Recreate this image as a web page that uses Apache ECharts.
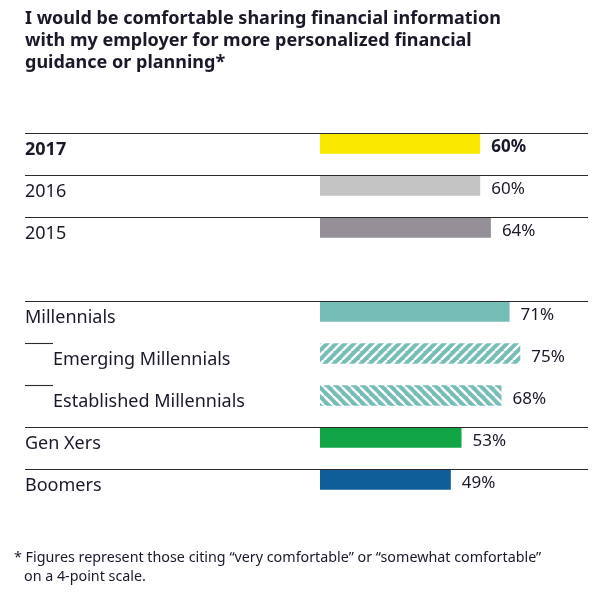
<!DOCTYPE html>
<html>
<head>
<meta charset="utf-8">
<script src="https://cdn.jsdelivr.net/npm/echarts@6/dist/echarts.min.js"></script>
<style>html,body{margin:0;padding:0;background:#fff;}#c{width:610px;height:604px;}</style>
</head>
<body>
<div id="c"></div>
<script>
const categories = ['2017', '2016', '2015', '', 'Millennials', 'Emerging Millennials', 'Established Millennials', 'Gen Xers', 'Boomers'];
const values = [60, 60, 64, null, 71, 75, 68, 53, 49];
const separators = ['full', 'full', 'full', 'none', 'full', 'short', 'short', 'full', 'full'];
const labelStyles = ['bold', 'plain', 'plain', 'plain', 'plain', 'indent', 'indent', 'plain', 'plain'];

const TEXT = '#1c1829';
const FONT = 'Noto Sans';
const teal = '#76bdb8';

function hatch(dir) {
  const s = 9;
  const c = document.createElement('canvas');
  c.width = s; c.height = s;
  const g = c.getContext('2d');
  g.fillStyle = teal; g.fillRect(0, 0, s, s);
  g.strokeStyle = '#ffffff'; g.lineWidth = 2.4;
  for (let k = -1; k <= 1; k++) {
    g.beginPath();
    if (dir === 'up') { g.moveTo(k * s, s); g.lineTo(k * s + s, 0); }
    else { g.moveTo(k * s, 0); g.lineTo(k * s + s, s); }
    g.stroke();
  }
  return { image: c, repeat: 'repeat' };
}

const colors = ['#f9e900', '#c3c3c3', '#958f97', '#ffffff', teal, hatch('up'), hatch('down'), '#11a545', '#0f5e9a'];
const BAR_H = 20.5;
const LABEL_MARGIN = 295;

const chart = echarts.init(document.getElementById('c'), null, { renderer: 'canvas' });
chart.setOption({
  backgroundColor: '#fff',
  animation: false,
  textStyle: { fontFamily: FONT },
  title: [
    {
      text: 'I would be comfortable sharing financial information\nwith my employer for more personalized financial\nguidance or planning*',
      left: 25, top: 7.5, padding: 0,
      textStyle: { fontFamily: FONT, fontSize: 18, fontWeight: 'bold', color: TEXT, lineHeight: 22 }
    },
    {
      text: '* Figures represent those citing \u201cvery comfortable\u201d or \u201csomewhat comfortable\u201d',
      left: 14, top: 550, padding: 0,
      textStyle: { fontFamily: FONT, fontSize: 14.3, fontWeight: 'normal', color: TEXT, lineHeight: 16 }
    },
    {
      text: 'on a 4-point scale.',
      left: 24, top: 569, padding: 0,
      textStyle: { fontFamily: FONT, fontSize: 14.3, fontWeight: 'normal', color: TEXT, lineHeight: 16 }
    }
  ],
  grid: { left: 320, right: 23, top: 122.5, bottom: 103.5, containLabel: false },
  xAxis: {
    type: 'value', min: 0, max: 100, show: false
  },
  yAxis: {
    type: 'category',
    data: categories,
    inverse: true,
    axisLine: { show: false },
    axisTick: { show: false },
    splitLine: { show: false },
    axisLabel: {
      align: 'left',
      margin: LABEL_MARGIN,
      formatter: function (v, i) {
        return '{' + labelStyles[i] + '|' + v + '}';
      },
      rich: {
        bold: { fontFamily: FONT, fontSize: 18, fontWeight: 'bold', color: TEXT, padding: [13, 0, 0, 0] },
        plain: { fontFamily: FONT, fontSize: 18, color: TEXT, padding: [13, 0, 0, 0] },
        indent: { fontFamily: FONT, fontSize: 18, color: TEXT, padding: [12, 0, 0, 28] }
      }
    }
  },
  series: [
    {
      type: 'bar',
      barWidth: BAR_H,
      data: values.map(function (v, i) {
        return {
          value: v,
          itemStyle: { color: colors[i] },
          label: { fontWeight: i === 0 ? 'bold' : 'normal' }
        };
      }),
      label: {
        show: true,
        position: 'right',
        distance: 11,
        offset: [0, 4],
        formatter: '{c}%',
        fontFamily: FONT,
        fontSize: 17,
        color: TEXT
      }
    },
    {
      type: 'custom',
      z: 5,
      silent: true,
      data: separators.map(function (s, i) { return [0, i]; }),
      renderItem: function (params, api) {
        const idx = api.value(1);
        const kind = separators[idx];
        if (kind === 'none') return null;
        const y = Math.round(api.coord([0, idx])[1] - BAR_H / 2) + 0.5;
        const cs = params.coordSys;
        const x0 = cs.x - LABEL_MARGIN;
        const x1 = kind === 'full' ? cs.x + cs.width + 1 : x0 + 28;
        return {
          type: 'line',
          shape: { x1: x0, y1: y, x2: x1, y2: y },
          style: { stroke: '#2a2a2a', lineWidth: 1.1 }
        };
      }
    }
  ]
});
</script>
</body>
</html>
